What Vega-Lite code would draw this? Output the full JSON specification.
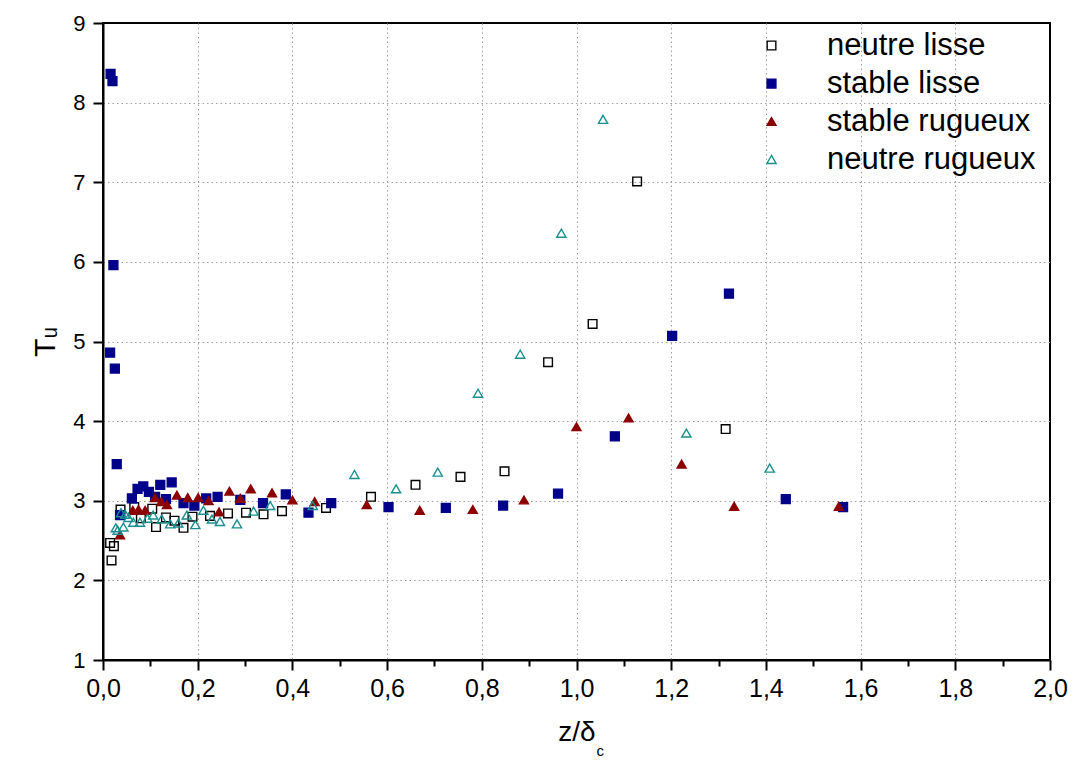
{
  "$schema": "https://vega.github.io/schema/vega-lite/v6.json",
  "width": 947,
  "height": 637,
  "autosize": {"type": "none"},
  "padding": {"left": 103, "top": 23, "right": 26, "bottom": 103},
  "background": "white",
  "config": {
    "view": {"stroke": "black", "strokeWidth": 2},
    "font": "Liberation Sans",
    "legend": {
      "labelFont": "Liberation Sans", "labelFontSize": 31, "labelColor": "black", "labelLimit": 500,
      "labelOffset": 40, "rowPadding": 6, "symbolStrokeWidth": 1.4
    }
  },
  "datasets": {
    "pts": [
      {"s": "neutre lisse", "x": 0.018, "y": 2.25},
      {"s": "neutre lisse", "x": 0.015, "y": 2.47},
      {"s": "neutre lisse", "x": 0.023, "y": 2.43},
      {"s": "neutre lisse", "x": 0.037, "y": 2.89},
      {"s": "neutre lisse", "x": 0.066, "y": 2.92},
      {"s": "neutre lisse", "x": 0.08, "y": 2.78},
      {"s": "neutre lisse", "x": 0.104, "y": 2.90},
      {"s": "neutre lisse", "x": 0.112, "y": 2.67},
      {"s": "neutre lisse", "x": 0.133, "y": 2.79},
      {"s": "neutre lisse", "x": 0.151, "y": 2.75},
      {"s": "neutre lisse", "x": 0.170, "y": 2.66},
      {"s": "neutre lisse", "x": 0.189, "y": 2.80},
      {"s": "neutre lisse", "x": 0.226, "y": 2.81},
      {"s": "neutre lisse", "x": 0.264, "y": 2.84},
      {"s": "neutre lisse", "x": 0.302, "y": 2.85},
      {"s": "neutre lisse", "x": 0.339, "y": 2.83},
      {"s": "neutre lisse", "x": 0.378, "y": 2.87},
      {"s": "neutre lisse", "x": 0.471, "y": 2.91},
      {"s": "neutre lisse", "x": 0.566, "y": 3.05},
      {"s": "neutre lisse", "x": 0.660, "y": 3.20},
      {"s": "neutre lisse", "x": 0.755, "y": 3.30},
      {"s": "neutre lisse", "x": 0.848, "y": 3.37},
      {"s": "neutre lisse", "x": 0.940, "y": 4.74},
      {"s": "neutre lisse", "x": 1.034, "y": 5.22},
      {"s": "neutre lisse", "x": 1.128, "y": 7.01},
      {"s": "neutre lisse", "x": 1.315, "y": 3.90},

      {"s": "stable lisse", "x": 0.016, "y": 8.36},
      {"s": "stable lisse", "x": 0.020, "y": 8.27},
      {"s": "stable lisse", "x": 0.022, "y": 5.96},
      {"s": "stable lisse", "x": 0.015, "y": 4.86},
      {"s": "stable lisse", "x": 0.025, "y": 4.66},
      {"s": "stable lisse", "x": 0.029, "y": 3.46},
      {"s": "stable lisse", "x": 0.036, "y": 2.82},
      {"s": "stable lisse", "x": 0.061, "y": 3.03},
      {"s": "stable lisse", "x": 0.073, "y": 3.15},
      {"s": "stable lisse", "x": 0.085, "y": 3.18},
      {"s": "stable lisse", "x": 0.097, "y": 3.11},
      {"s": "stable lisse", "x": 0.110, "y": 3.05},
      {"s": "stable lisse", "x": 0.121, "y": 3.20},
      {"s": "stable lisse", "x": 0.133, "y": 3.02},
      {"s": "stable lisse", "x": 0.145, "y": 3.23},
      {"s": "stable lisse", "x": 0.170, "y": 2.97},
      {"s": "stable lisse", "x": 0.193, "y": 2.94},
      {"s": "stable lisse", "x": 0.218, "y": 3.03},
      {"s": "stable lisse", "x": 0.242, "y": 3.05},
      {"s": "stable lisse", "x": 0.290, "y": 3.01},
      {"s": "stable lisse", "x": 0.338, "y": 2.97},
      {"s": "stable lisse", "x": 0.386, "y": 3.08},
      {"s": "stable lisse", "x": 0.434, "y": 2.85},
      {"s": "stable lisse", "x": 0.482, "y": 2.97},
      {"s": "stable lisse", "x": 0.603, "y": 2.92},
      {"s": "stable lisse", "x": 0.724, "y": 2.91},
      {"s": "stable lisse", "x": 0.845, "y": 2.94},
      {"s": "stable lisse", "x": 0.961, "y": 3.09},
      {"s": "stable lisse", "x": 1.081, "y": 3.81},
      {"s": "stable lisse", "x": 1.202, "y": 5.07},
      {"s": "stable lisse", "x": 1.322, "y": 5.60},
      {"s": "stable lisse", "x": 1.442, "y": 3.02},
      {"s": "stable lisse", "x": 1.563, "y": 2.92},

      {"s": "stable rugueux", "x": 0.036, "y": 2.57},
      {"s": "stable rugueux", "x": 0.063, "y": 2.88},
      {"s": "stable rugueux", "x": 0.075, "y": 2.89},
      {"s": "stable rugueux", "x": 0.089, "y": 2.88},
      {"s": "stable rugueux", "x": 0.110, "y": 3.04},
      {"s": "stable rugueux", "x": 0.123, "y": 2.99},
      {"s": "stable rugueux", "x": 0.135, "y": 2.95},
      {"s": "stable rugueux", "x": 0.156, "y": 3.07},
      {"s": "stable rugueux", "x": 0.179, "y": 3.04},
      {"s": "stable rugueux", "x": 0.201, "y": 3.04},
      {"s": "stable rugueux", "x": 0.223, "y": 3.00},
      {"s": "stable rugueux", "x": 0.245, "y": 2.86},
      {"s": "stable rugueux", "x": 0.267, "y": 3.12},
      {"s": "stable rugueux", "x": 0.290, "y": 3.03},
      {"s": "stable rugueux", "x": 0.312, "y": 3.15},
      {"s": "stable rugueux", "x": 0.357, "y": 3.10},
      {"s": "stable rugueux", "x": 0.400, "y": 3.01},
      {"s": "stable rugueux", "x": 0.447, "y": 2.99},
      {"s": "stable rugueux", "x": 0.557, "y": 2.95},
      {"s": "stable rugueux", "x": 0.669, "y": 2.88},
      {"s": "stable rugueux", "x": 0.781, "y": 2.89},
      {"s": "stable rugueux", "x": 0.889, "y": 3.01},
      {"s": "stable rugueux", "x": 1.000, "y": 3.93},
      {"s": "stable rugueux", "x": 1.110, "y": 4.04},
      {"s": "stable rugueux", "x": 1.222, "y": 3.46},
      {"s": "stable rugueux", "x": 1.333, "y": 2.93},
      {"s": "stable rugueux", "x": 1.554, "y": 2.93},

      {"s": "neutre rugueux", "x": 0.027, "y": 2.66},
      {"s": "neutre rugueux", "x": 0.031, "y": 2.63},
      {"s": "neutre rugueux", "x": 0.038, "y": 2.85},
      {"s": "neutre rugueux", "x": 0.043, "y": 2.67},
      {"s": "neutre rugueux", "x": 0.047, "y": 2.83},
      {"s": "neutre rugueux", "x": 0.054, "y": 2.79},
      {"s": "neutre rugueux", "x": 0.064, "y": 2.73},
      {"s": "neutre rugueux", "x": 0.078, "y": 2.73},
      {"s": "neutre rugueux", "x": 0.094, "y": 2.78},
      {"s": "neutre rugueux", "x": 0.106, "y": 2.82},
      {"s": "neutre rugueux", "x": 0.124, "y": 2.77},
      {"s": "neutre rugueux", "x": 0.142, "y": 2.71},
      {"s": "neutre rugueux", "x": 0.159, "y": 2.72},
      {"s": "neutre rugueux", "x": 0.177, "y": 2.82},
      {"s": "neutre rugueux", "x": 0.195, "y": 2.70},
      {"s": "neutre rugueux", "x": 0.212, "y": 2.88},
      {"s": "neutre rugueux", "x": 0.230, "y": 2.77},
      {"s": "neutre rugueux", "x": 0.247, "y": 2.74},
      {"s": "neutre rugueux", "x": 0.283, "y": 2.71},
      {"s": "neutre rugueux", "x": 0.318, "y": 2.87},
      {"s": "neutre rugueux", "x": 0.353, "y": 2.94},
      {"s": "neutre rugueux", "x": 0.443, "y": 2.94},
      {"s": "neutre rugueux", "x": 0.531, "y": 3.33},
      {"s": "neutre rugueux", "x": 0.619, "y": 3.15},
      {"s": "neutre rugueux", "x": 0.707, "y": 3.36},
      {"s": "neutre rugueux", "x": 0.792, "y": 4.35},
      {"s": "neutre rugueux", "x": 0.881, "y": 4.84},
      {"s": "neutre rugueux", "x": 0.968, "y": 6.36},
      {"s": "neutre rugueux", "x": 1.056, "y": 7.79},
      {"s": "neutre rugueux", "x": 1.232, "y": 3.85},
      {"s": "neutre rugueux", "x": 1.408, "y": 3.41}
    ]
  },
  "layer": [
    {
      "data": {"name": "pts"},
      "mark": {"type": "point", "strokeWidth": 1.4, "opacity": 1},
      "encoding": {
        "x": {
          "field": "x", "type": "quantitative",
          "scale": {"domain": [0, 2], "nice": false, "zero": false},
          "axis": {
            "title": "z/δ",
            "titleFont": "Liberation Sans",
            "titleFontSize": 28, "titleFontWeight": "normal", "titleColor": "black",
            "titlePadding": 17,
            "values": [0,0.1,0.2,0.3,0.4,0.5,0.6,0.7,0.8,0.9,1.0,1.1,1.2,1.3,1.4,1.5,1.6,1.7,1.8,1.9,2.0],
            "labelExpr": "abs(datum.value*5-round(datum.value*5))<0.001 ? replace(format(datum.value,'.1f'),'.',',') : ''",
            "labelFont": "Liberation Sans",
            "labelFontSize": 25, "labelColor": "black", "labelPadding": 6,
            "labelOverlap": false, "labelFlush": false,
            "domainColor": "black", "domainWidth": 2,
            "tickColor": "black", "tickWidth": 2,
            "tickSize": {"condition": {"test": "abs(datum.value*5-round(datum.value*5))<0.001", "value": 10}, "value": 6},
            "grid": true, "gridColor": "#a0a0a0", "gridDash": [1.5, 3], "gridWidth": 1,
            "gridOpacity": {"condition": {"test": "abs(datum.value*5-round(datum.value*5))<0.001 && datum.value>0.01 && datum.value<1.99", "value": 1}, "value": 0}
          }
        },
        "y": {
          "field": "y", "type": "quantitative",
          "scale": {"domain": [1, 9], "nice": false, "zero": false},
          "axis": {
            "title": "Tᵤ",
            "titleFont": "Liberation Sans, DejaVu Sans",
            "titleFontSize": 30, "titleFontWeight": "normal", "titleColor": "black",
            "titlePadding": 12,
            "values": [1,1.5,2,2.5,3,3.5,4,4.5,5,5.5,6,6.5,7,7.5,8,8.5,9],
            "labelExpr": "datum.value % 1 == 0 ? format(datum.value,'d') : ''",
            "labelFont": "Liberation Sans",
            "labelFontSize": 22, "labelColor": "black", "labelPadding": 8,
            "labelOverlap": false, "labelFlush": false,
            "domainColor": "black", "domainWidth": 2,
            "tickColor": "black", "tickWidth": 2,
            "tickSize": {"condition": {"test": "datum.value % 1 == 0", "value": 10}, "value": 6},
            "grid": true, "gridColor": "#a0a0a0", "gridDash": [1.5, 3], "gridWidth": 1,
            "gridOpacity": {"condition": {"test": "datum.value % 1 == 0 && datum.value>1 && datum.value<9", "value": 1}, "value": 0}
          }
        },
        "shape": {
          "field": "s", "type": "nominal",
          "scale": {"domain": ["neutre lisse", "stable lisse", "stable rugueux", "neutre rugueux"],
                    "range": ["square", "square", "triangle-up", "triangle-up"]},
          "legend": {"title": null, "orient": "none", "legendX": 653, "legendY": 7}
        },
        "size": {
          "field": "s", "type": "nominal",
          "scale": {"domain": ["neutre lisse", "stable lisse", "stable rugueux", "neutre rugueux"],
                    "range": [75, 85, 140, 130]},
          "legend": {"title": null, "orient": "none", "legendX": 653, "legendY": 7}
        },
        "fill": {
          "field": "s", "type": "nominal",
          "scale": {"domain": ["neutre lisse", "stable lisse", "stable rugueux", "neutre rugueux"],
                    "range": ["transparent", "#00008b", "#8b0000", "transparent"]},
          "legend": {"title": null, "orient": "none", "legendX": 653, "legendY": 7}
        },
        "stroke": {
          "field": "s", "type": "nominal",
          "scale": {"domain": ["neutre lisse", "stable lisse", "stable rugueux", "neutre rugueux"],
                    "range": ["#000000", "#00008b", "#8b0000", "#1a8f8f"]},
          "legend": {"title": null, "orient": "none", "legendX": 653, "legendY": 7}
        }
      }
    },
    {
      "data": {"values": [{"lab": "c"}]},
      "mark": {"type": "text", "font": "Liberation Sans", "fontSize": 15, "color": "black", "dx": 20, "dy": 91, "align": "left", "baseline": "middle"},
      "encoding": {"x": {"datum": 1.0}, "y": {"datum": 1}, "text": {"field": "lab"}}
    }
  ]
}
